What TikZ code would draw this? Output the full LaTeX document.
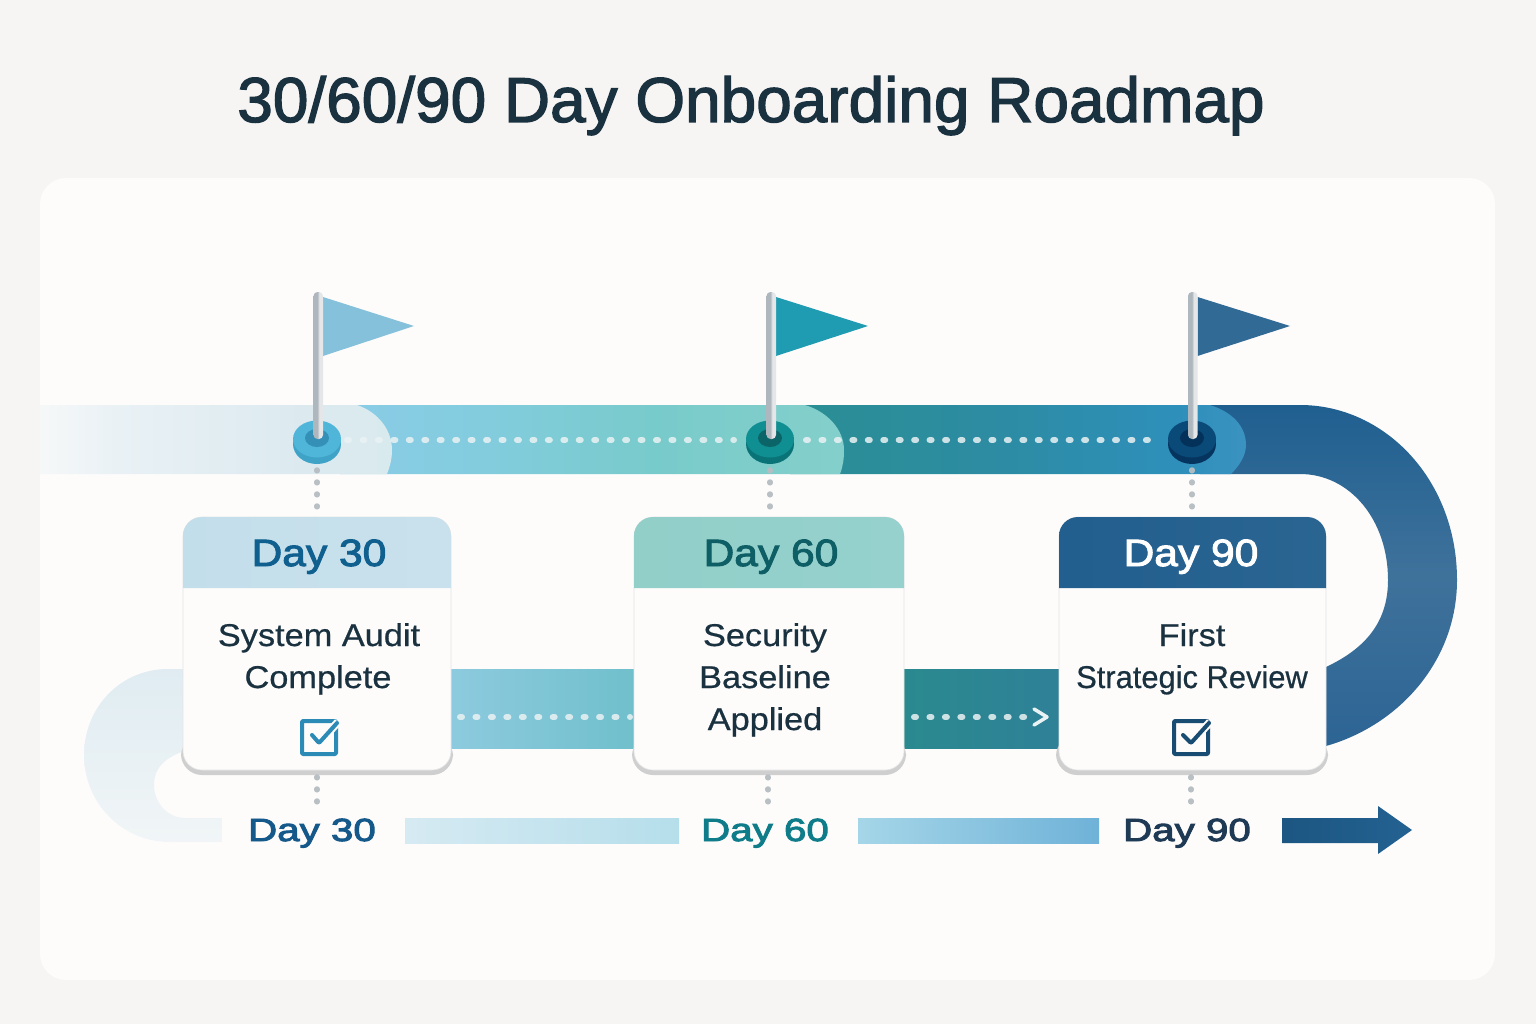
\documentclass[tikz,border=0pt]{standalone}
\usepackage{fontspec}
\setmainfont{Liberation Sans}
\newfontfamily\titlef[FakeStretch=1.007,FakeBold=2]{Liberation Sans}
\newfontfamily\headf[FakeStretch=1.12,FakeBold=2.5]{Liberation Sans}
\newfontfamily\bodyf[FakeStretch=1.09,FakeBold=0.6]{Liberation Sans}
\newfontfamily\bodyn[FakeStretch=0.98,FakeBold=0.6]{Liberation Sans}
\newfontfamily\lowf[FakeStretch=1.26,FakeBold=3]{Liberation Sans}
\definecolor{bgc}{HTML}{F7F5F3}
\definecolor{panelc}{HTML}{FDFCFB}
\definecolor{inkc}{HTML}{1A3140}
\definecolor{lA}{HTML}{F6F8F8}\definecolor{lB}{HTML}{E9F1F5}\definecolor{lC}{HTML}{DCEAF0}\definecolor{lD}{HTML}{D9EAEE}
\definecolor{aA}{HTML}{8ACCE7}\definecolor{aB}{HTML}{82CCDD}\definecolor{aC}{HTML}{78CBCB}\definecolor{aD}{HTML}{84CFCB}
\definecolor{bA}{HTML}{2A8E93}\definecolor{bB}{HTML}{2D8CA2}\definecolor{bC}{HTML}{2E8FBA}\definecolor{bD}{HTML}{3A92C0}
\definecolor{navyA}{HTML}{1F5F90}\definecolor{navyB}{HTML}{3F729B}\definecolor{navyC}{HTML}{2C6494}
\definecolor{poleA}{HTML}{AEB7BD}\definecolor{poleB}{HTML}{E4E6E8}
\definecolor{hA}{HTML}{C3DEEB}\definecolor{hB}{HTML}{C9E1EC}
\definecolor{hC}{HTML}{92CFC9}\definecolor{hD}{HTML}{96D1CD}
\definecolor{hE}{HTML}{225E8E}\definecolor{hF}{HTML}{2A6592}
\definecolor{barA}{HTML}{D6EAF2}\definecolor{barB}{HTML}{B5DEEB}
\definecolor{barC}{HTML}{A5D6E8}\definecolor{barD}{HTML}{6FB2D8}
\definecolor{flagA}{HTML}{85C1DB}\definecolor{flagB}{HTML}{1F9BB2}\definecolor{flagC}{HTML}{326A96}
\definecolor{pA1}{HTML}{3FA3C7}\definecolor{pA2}{HTML}{4FB5D9}\definecolor{pA3}{HTML}{3590B8}
\definecolor{pB1}{HTML}{0A7377}\definecolor{pB2}{HTML}{0F8F92}\definecolor{pB3}{HTML}{0B6468}
\definecolor{pC1}{HTML}{05355F}\definecolor{pC2}{HTML}{0A4A78}\definecolor{pC3}{HTML}{03315A}
\definecolor{dotc}{HTML}{EAF2F3}\definecolor{grayd}{HTML}{B6BDC2}
\definecolor{lowA}{HTML}{8FCBE0}\definecolor{lowB}{HTML}{6FBFCB}\definecolor{lowC}{HTML}{2A8A8F}\definecolor{lowD}{HTML}{2F8097}
\definecolor{txA}{HTML}{0F5F8F}\definecolor{txB}{HTML}{0E5E66}\definecolor{txC}{HTML}{15588A}\definecolor{txD}{HTML}{0F7C8A}\definecolor{txE}{HTML}{1E3A55}
\pgfdeclarehorizontalshading{bandL}{100bp}{color(0bp)=(lA);color(25bp)=(lA);color(36bp)=(lB);color(62bp)=(lC);color(75bp)=(lD);color(100bp)=(lD)}
\pgfdeclarehorizontalshading{bandA}{100bp}{color(0bp)=(aA);color(25bp)=(aA);color(40bp)=(aB);color(56bp)=(aC);color(75bp)=(aD);color(100bp)=(aD)}
\pgfdeclarehorizontalshading{bandB}{100bp}{color(0bp)=(bA);color(25bp)=(bA);color(47bp)=(bB);color(67bp)=(bC);color(75bp)=(bD);color(100bp)=(bD)}
\pgfdeclarehorizontalshading{poleS}{100bp}{color(0bp)=(poleA);color(25bp)=(poleA);color(45bp)=(poleA);color(55bp)=(poleB);color(75bp)=(poleB);color(100bp)=(poleB)}
\tikzset{
  x=1pt,y=-1pt,
  cardbox/.style={draw=black!10,line width=.6pt,fill=panelc,rounded corners=19pt,minimum width=268pt,minimum height=253pt,inner sep=0pt},
  cardshadow/.style={fill=black!19,rounded corners=21pt},
  headtxt/.style={anchor=base,inner sep=0pt,font=\headf\fontsize{38}{42}\selectfont},
  bodytxt/.style={anchor=base,inner sep=0pt,text=inkc,font=\bodyf\fontsize{31.5}{36}\selectfont},
  lowtxt/.style={anchor=base,inner sep=0pt,font=\lowf\fontsize{32}{36}\selectfont},
  whitedots/.style={draw=dotc,opacity=.85,line width=6pt,line cap=round,dash pattern=on 2pt off 13.45pt},
  graydots/.style={draw=grayd,opacity=.95,line width=5.5pt,line cap=round,dash pattern=on .8pt off 11.2pt},
  chk/.style={line width=4pt,line join=round,rounded corners=1pt},
}
\newcommand{\pinflag}[8]{% name, pin x, pole left, flag colour, side, top, inner, tip x
  \coordinate (#1) at (#2,440);
  \fill[#5] (#2,444) ellipse [x radius=24,y radius=20];
  \fill[#6] (#2,439) ellipse [x radius=24,y radius=18.5];
  \fill[#7] (#2,438) ellipse [x radius=12,y radius=9];
  \fill[#4] (#3+9.5,297) -- (#8,326) -- (#3+9.5,356) -- cycle;
  \shade[shading=poleS,rounded corners=4pt] (#3,292) rectangle (#3+9.5,439);
}
\newcommand{\cardhead}[4]{% left, right, colours
  \shade[left color=#3,right color=#4] (#1,588) -- (#1,536) .. controls (#1,525.5) and (#1+8.5,517) .. (#1+19,517) -- (#2-19,517) .. controls (#2-8.5,517) and (#2,525.5) .. (#2,536) -- (#2,588) -- cycle;
}
\begin{document}
\begin{tikzpicture}
\useasboundingbox (0,0) rectangle (1536,1024);
\fill[bgc] (0,0) rectangle (1536,1024);
\fill[panelc,rounded corners=26pt] (40,178) rectangle (1495,980);
\node[anchor=base,inner sep=0pt,text=inkc,font=\titlef\fontsize{63.5}{70}\selectfont] (title) at (751,122) {30/60/90 Day Onboarding Roadmap};

% road
\shade[top color=navyA,bottom color=navyC,middle color=navyB] (1200,405) -- (1300,405) .. controls (1385,405) and (1457,480) .. (1457,580) .. controls (1457,660) and (1400,725) .. (1326,746) -- (1300,746) -- (1300,667) -- (1326,667) .. controls (1362,650) and (1388,625) .. (1388,580) .. controls (1388,520) and (1350,474) .. (1300,474) -- (1200,474) -- cycle;
\shade[shading=bandB] (790,405) -- (1210,405) .. controls (1232,412) and (1246,426) .. (1246,445) .. controls (1246,456) and (1239,466) .. (1231,474) -- (790,474) -- cycle;
\shade[shading=bandA] (340,405) -- (805,405) .. controls (828,412) and (844,430) .. (844,450) .. controls (844,459) and (843,466) .. (840,474) -- (340,474) -- cycle;
\shade[shading=bandL] (40,405) -- (357,405) .. controls (378,412) and (392,430) .. (392,450) .. controls (392,459) and (390,466) .. (387,474) -- (40,474) -- cycle;
\shade[top color=lC!90!white,bottom color=lA!60!lB] (195,669) -- (168,669) .. controls (120,669) and (84,708) .. (84,755) .. controls (84,803) and (122,842) .. (170,842) -- (222,842) -- (222,818) -- (185,818) .. controls (167,818) and (154,802) .. (154,785) .. controls (154,768) and (165,755) .. (195,748) -- cycle;
\shade[left color=lowA,right color=lowB] (440,669) rectangle (640,748);
\shade[left color=lowC,right color=lowD] (898,669) rectangle (1065,748);

% pins and flags
\pinflag{pin1}{317}{313.5}{flagA}{pA1}{pA2}{pA3}{414}
\pinflag{pin2}{770}{766.5}{flagB}{pB1}{pB2}{pB3}{868}
\pinflag{pin3}{1192}{1188}{flagC}{pC1}{pC2}{pC3}{1290}

% cards
\fill[cardshadow] (181,735) rectangle (453,775);
\fill[cardshadow] (632,735) rectangle (906,775);
\fill[cardshadow] (1056,735) rectangle (1328,775);
\node[cardbox] (card1) at (317,643.5) {};
\node[cardbox,minimum width=270pt] (card2) at (769,643.5) {};
\node[cardbox,minimum width=267pt] (card3) at (1192.5,643.5) {};
\cardhead{183}{451}{hA}{hB}
\cardhead{634}{904}{hC}{hD}
\cardhead{1059}{1326}{hE}{hF}

\node[headtxt,text=txA] (h1) at (319,566) {Day 30};
\node[headtxt,text=txB] (h2) at (771,566) {Day 60};
\node[headtxt,text=white] (h3) at (1191,566) {Day 90};

\node[bodytxt] (b1a) at (319,646) {System Audit};
\node[bodytxt] (b1b) at (318,688) {Complete};
\node[bodytxt] (b2a) at (765,646) {Security};
\node[bodytxt] (b2b) at (765,688) {Baseline};
\node[bodytxt] (b2c) at (765,730) {Applied};
\node[bodytxt] (b3a) at (1192,646) {First};
\node[bodytxt,font=\bodyn\fontsize{31.5}{36}\selectfont] (b3b) at (1192,688) {Strategic Review};

% check boxes
\draw[chk,draw=bC!90!navyA] (302,721) rectangle (336,754);
\draw[line width=8pt,panelc,line join=round] (312,735) -- (319,743) -- (338,722);
\draw[chk,draw=bC!90!navyA,line cap=round] (312,735) -- (319,743) -- (337,723);
\draw[chk,draw=navyA!80!black] (1174,721) rectangle (1208,754);
\draw[line width=8pt,panelc,line join=round] (1183,735) -- (1191,743) -- (1210,722);
\draw[chk,draw=navyA!80!black,line cap=round] (1183,735) -- (1191,743) -- (1209,723);

% connectors
\draw[whitedots,shorten <=30pt,shorten >=36pt] (pin1) -- (pin2);
\draw[whitedots,shorten <=36pt,shorten >=33pt] (pin2) -- (pin3);
\coordinate (l1s) at (460,717);\coordinate (l1e) at (630,717);
\coordinate (l2s) at (914,717);\coordinate (l2e) at (1026,717);
\coordinate (chA) at (1034,709);\coordinate (chB) at (1047,717);\coordinate (chC) at (1034,725);
\draw[whitedots] (l1s) -- (l1e);
\draw[whitedots] (l2s) -- (l2e);
\draw[draw=dotc,line width=3.5pt,line cap=round,line join=round] (chA) -- (chB) -- (chC);

\coordinate (g1) at (317,442);\coordinate (g2) at (770,442);\coordinate (g3) at (1192,442);
\draw[graydots,shorten <=28pt,shorten >=7pt] (g1) -- (g1 |- card1.north);
\draw[graydots,shorten <=28pt,shorten >=7pt] (g2) -- (g2 |- card2.north);
\draw[graydots,shorten <=28pt,shorten >=7pt] (g3) -- (g3 |- card3.north);
\coordinate (d1) at (317,777);\coordinate (d2) at (768,777);\coordinate (d3) at (1191,777);
\coordinate (e1) at (317,802);\coordinate (e2) at (768,802);\coordinate (e3) at (1191,802);
\draw[graydots] (d1) -- (e1);
\draw[graydots] (d2) -- (e2);
\draw[graydots] (d3) -- (e3);

% lower timeline
\node[lowtxt,text=txC] (t1) at (312,841) {Day 30};
\node[lowtxt,text=txD] (t2) at (765,841) {Day 60};
\node[lowtxt,text=txE] (t3) at (1187,841) {Day 90};
\shade[left color=barA,right color=barB] (405,818) rectangle (679,843);
\shade[left color=barC,right color=barD] (858,818) rectangle (1099,843);
\shade[left color=navyA!90!black,right color=navyA!85!navyB] (1282,818) -- (1378,818) -- (1378,806) -- (1412,830) -- (1378,854) -- (1378,843) -- (1282,843) -- cycle;
\end{tikzpicture}
\end{document}
